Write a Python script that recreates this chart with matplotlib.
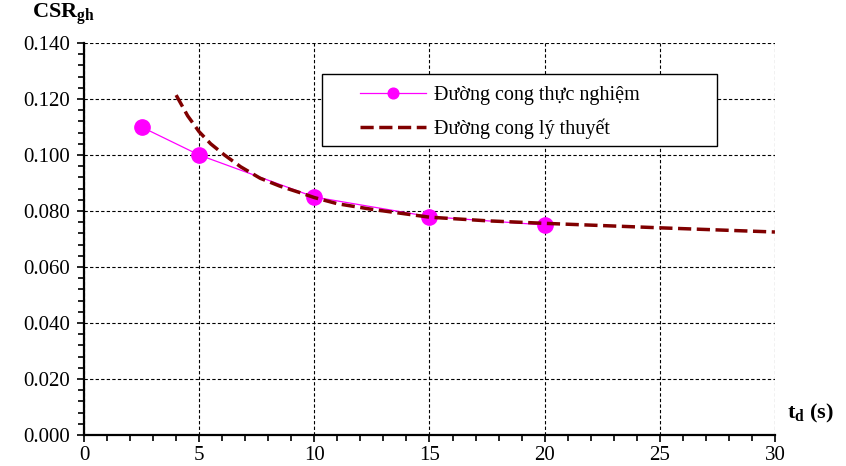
import matplotlib
matplotlib.use("Agg")
import matplotlib.pyplot as plt
from matplotlib.patches import Rectangle
from matplotlib.ticker import MultipleLocator, FormatStrFormatter

# experimental curve
t_exp = [2.5, 5, 10, 15, 20]
csr_exp = [0.110, 0.100, 0.085, 0.078, 0.075]

# theoretical curve
t_theo = [4.0, 4.5, 5, 5.5, 6.1, 6.8, 7.65, 8.5, 9.4, 10, 11, 12.5, 15,
          17.5, 20, 25, 30]
csr_theo = [0.1214, 0.1140, 0.1083, 0.1040, 0.1000, 0.0958, 0.0917, 0.0889,
            0.0865, 0.0848, 0.0826, 0.0806, 0.0778, 0.0765, 0.0756, 0.0740,
            0.0725]

labels = ["Đường cong thực nghiệm", "Đường cong lý thuyết"]

plt.rcParams["font.family"] = ["Liberation Serif", "DejaVu Serif"]
plt.rcParams["mathtext.fontset"] = "custom"
plt.rcParams["mathtext.rm"] = "Liberation Serif"
plt.rcParams["mathtext.bf"] = "Liberation Serif:bold"

fig = plt.figure(figsize=(8.46, 4.66), dpi=100)
ax = fig.add_axes([0.0993, 0.0665, 0.8167, 0.8412])

ax.plot(t_exp, csr_exp, color="#ff00ff", lw=0.9, marker="o", ms=11,
        label=labels[0], zorder=3)
ax.plot(t_theo, csr_theo, color="#800000", lw=2.5, ls=(0, (3.8, 1.6)),
        label=labels[1], zorder=4)

ax.set_xlim(0, 30)
ax.set_ylim(0, 0.14)
ax.xaxis.set_major_locator(MultipleLocator(5))
ax.xaxis.set_minor_locator(MultipleLocator(1))
ax.yaxis.set_major_locator(MultipleLocator(0.02))
ax.yaxis.set_minor_locator(MultipleLocator(0.004))
ax.yaxis.set_major_formatter(FormatStrFormatter("%.3f"))

ax.grid(True, which="major", color="black", ls=(0, (3, 2)), lw=0.8)
for s in ["top", "right"]:
    ax.spines[s].set_visible(False)
for s in ["left", "bottom"]:
    ax.spines[s].set_linewidth(1.6)

ax.tick_params(which="both", direction="out", labelsize=15, width=1.2)
ax.tick_params(which="major", length=5)
ax.tick_params(which="minor", length=4)
ax.tick_params(axis="x", pad=3)
ax.tick_params(axis="y", pad=5)

# legend frame drawn separately so the entries can sit inset like the original
ax.add_patch(Rectangle((0.344, 0.737), 0.572, 0.184, transform=ax.transAxes,
                       facecolor="white", edgecolor="black", lw=1.0,
                       zorder=4.9))
leg = ax.legend(loc="upper left", bbox_to_anchor=(0.386, 0.913), fontsize=14.5,
                frameon=False, handlelength=3.3, handletextpad=0.4,
                borderpad=0.45, labelspacing=0.68, borderaxespad=0,
                markerscale=0.7)
leg.set_zorder(5)

fig.text(0.038, 0.968, r"CSR$_{\mathbf{gh}}$", fontsize=16, fontweight="bold",
         va="center", ha="left")
fig.text(0.930, 0.113, r"t$_{\mathbf{d}}$ (s)", fontsize=16, fontweight="bold",
         va="center", ha="left")

fig.savefig("out.png", dpi=100)
